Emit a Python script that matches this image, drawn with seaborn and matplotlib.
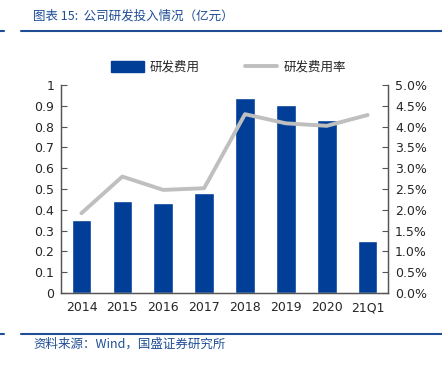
import matplotlib
matplotlib.use("Agg")
import matplotlib.pyplot as plt
import seaborn as sns
import numpy as np
import pandas as pd
from matplotlib.lines import Line2D
from matplotlib.patches import Patch

categories = ["2014", "2015", "2016", "2017", "2018", "2019", "2020", "21Q1"]
rd_expense = [0.352, 0.443, 0.432, 0.48, 0.94, 0.905, 0.83, 0.25]
rd_rate = [1.92, 2.80, 2.48, 2.52, 4.30, 4.08, 4.02, 4.28]
left_ticks = [0, 0.1, 0.2, 0.3, 0.4, 0.5, 0.6, 0.7, 0.8, 0.9, 1]
right_ticks = [0.0, 0.5, 1.0, 1.5, 2.0, 2.5, 3.0, 3.5, 4.0, 4.5, 5.0]

sns.set_style("white")
plt.rcParams['font.family'] = ['DejaVu Sans', 'Noto Sans CJK SC']
cjk = ['Noto Sans CJK SC', 'DejaVu Sans']

BAR = "#003E98"
LINE = "#BFBFBF"
BLUE = "#1F4E96"

fig = plt.figure(figsize=(4.42, 3.65), dpi=100)
ax = fig.add_axes([0.138, 0.197, 0.740, 0.570])
df = pd.DataFrame({"cat": categories, "val": rd_expense})
sns.barplot(data=df, x="cat", y="val", color=BAR, width=0.48, ax=ax, saturation=1)
ax.set_ylim(0, 1)
ax.set_xlim(-0.5, len(categories) - 0.5)
ax.set_yticks(left_ticks)
ax.set_yticklabels([f"{t:g}" for t in left_ticks])
ax.set_xlabel("")
ax.set_ylabel("")
ax.set_xticks(range(len(categories)))
ax.set_xticklabels(categories)
ax.set_xticks(np.arange(-0.5, len(categories), 1), minor=True)
ax.tick_params(axis='x', which='major', length=0, pad=6, labelsize=9)
ax.tick_params(axis='x', which='minor', length=4, direction='in', color='#555555')
ax.tick_params(axis='y', length=4, direction='in', labelsize=9, color='#555555', pad=5)

ax2 = ax.twinx()
sns.lineplot(x=np.arange(len(categories)), y=rd_rate, color=LINE, linewidth=2.8, ax=ax2)
ax2.set_ylim(0, 5)
ax2.set_yticks(right_ticks)
ax2.set_yticklabels([f"{t:.1f}%" for t in right_ticks])
ax2.tick_params(axis='y', length=4, direction='in', labelsize=9, color='#555555', pad=5)
ax2.set_xlim(-0.5, len(categories) - 0.5)

for a in (ax, ax2):
    for s in ['top']:
        a.spines[s].set_visible(False)
    for s in ['left', 'right', 'bottom']:
        a.spines[s].set_color('#555555')
        a.spines[s].set_linewidth(0.9)

handles = [Patch(facecolor=BAR, edgecolor=BAR), Line2D([0], [0], color=LINE, lw=2.8)]
fig.legend(handles, ["研发费用", "研发费用率"], loc='center', bbox_to_anchor=(0.517, 0.816),
           ncol=2, frameon=False, prop={'family': cjk, 'size': 9}, handlelength=2.6,
           handleheight=0.9, columnspacing=3.6, handletextpad=0.5)

# header and footer
fig.text(0.075, 0.955, "图表 15:  公司研发投入情况（亿元）", family=cjk, fontsize=9,
         color=BLUE, style='italic', va='center')
fig.add_artist(Line2D([0.047, 1.0], [0.915, 0.915], color=BLUE, lw=1.5))
fig.add_artist(Line2D([0.0, 0.008], [0.915, 0.915], color=BLUE, lw=1.5))
fig.add_artist(Line2D([0.047, 1.0], [0.085, 0.085], color=BLUE, lw=1.5))
fig.add_artist(Line2D([0.0, 0.008], [0.085, 0.085], color=BLUE, lw=1.5))
fig.text(0.075, 0.058, "资料来源：Wind，国盛证券研究所", family=cjk, fontsize=9,
         color=BLUE, style='italic', va='center')

fig.savefig("out.png", dpi=100)
